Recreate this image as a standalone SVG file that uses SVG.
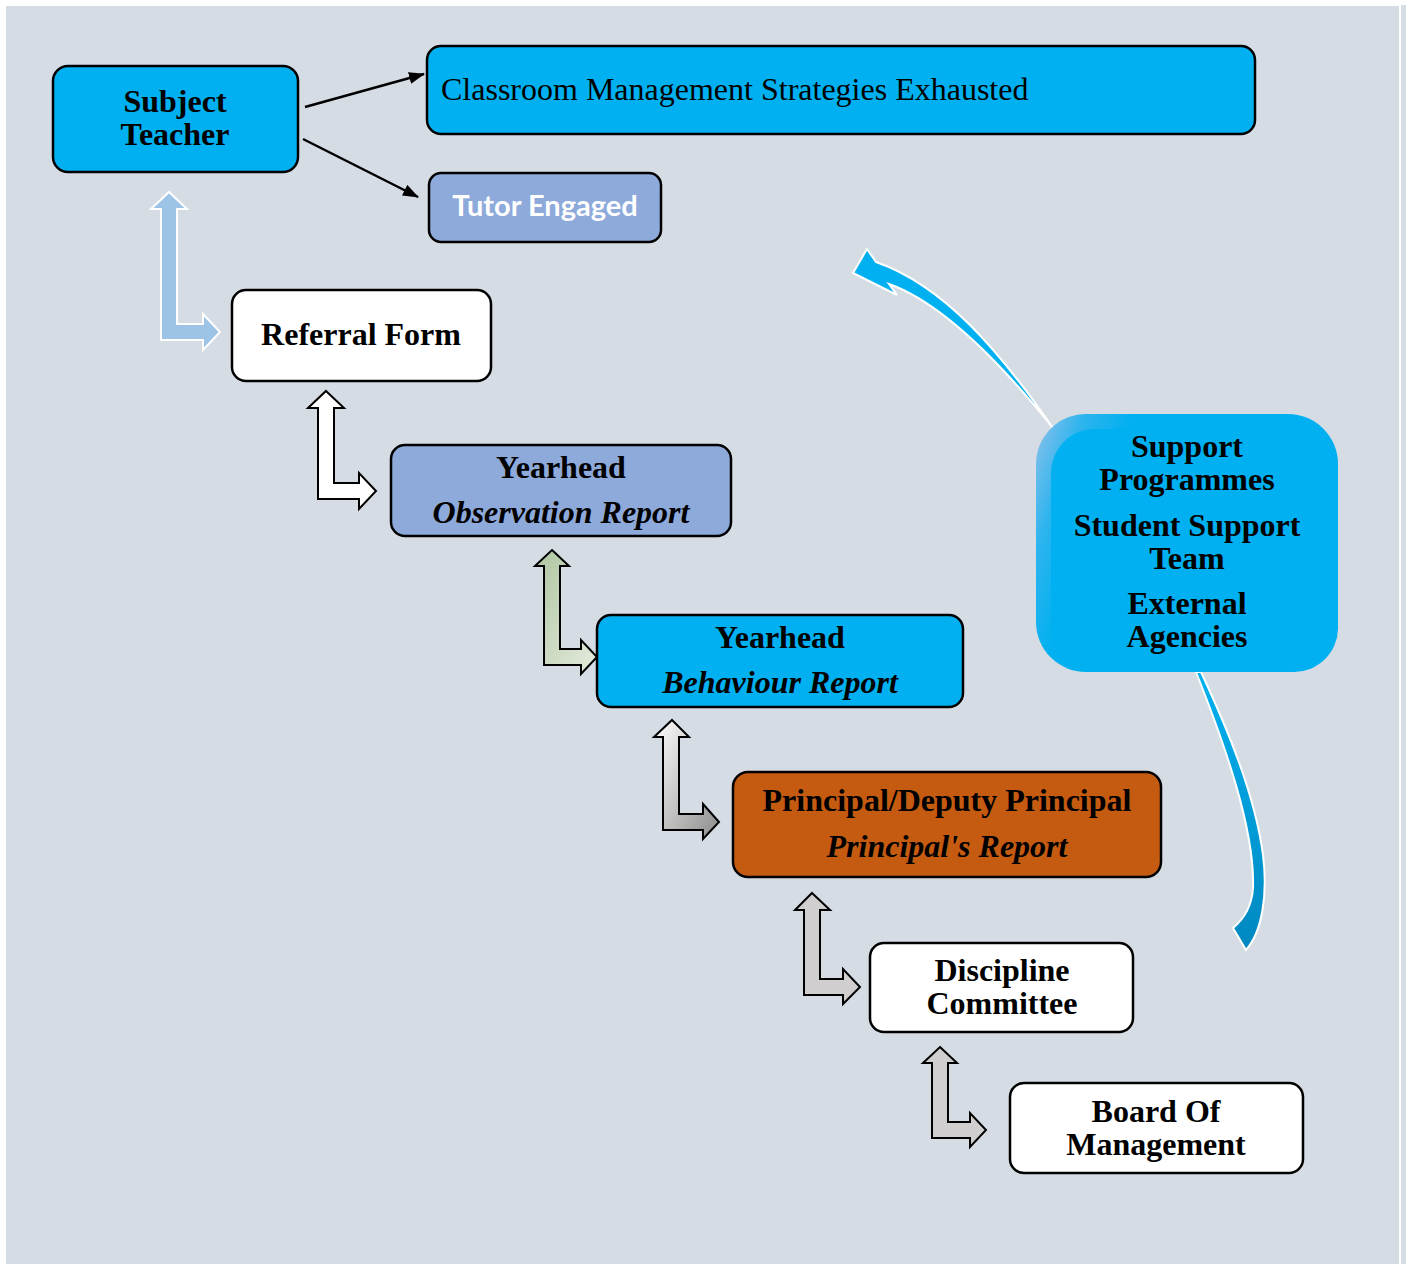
<svg xmlns="http://www.w3.org/2000/svg" width="1409" height="1264" viewBox="0 0 1409 1264">
<style>
.box{stroke:#000;stroke-width:2.5}
.t{font-family:"Liberation Serif","Times New Roman",serif;font-size:32px;font-weight:bold;fill:#000;text-anchor:middle}
.i{font-style:italic}
.bent{stroke:#000;stroke-width:2;stroke-linejoin:miter}
.ln{stroke:#000;stroke-width:2.5;fill:none}
</style>
<defs>
<marker id="ah" viewBox="0 0 16 12" refX="15" refY="6" markerWidth="16" markerHeight="12" markerUnits="userSpaceOnUse" orient="auto">
<path d="M0,0 L16,6 L0,12 Z" fill="#000"/>
</marker>
<linearGradient id="gGreen" x1="0" y1="0" x2="1" y2="1">
<stop offset="0" stop-color="#aec59f"/>
<stop offset="1" stop-color="#e6ecdf"/>
</linearGradient>
<linearGradient id="gGray" x1="0" y1="0" x2="1" y2="1">
<stop offset="0" stop-color="#ffffff"/>
<stop offset="1" stop-color="#8c8c8c"/>
</linearGradient>
<linearGradient id="gSup" x1="0" y1="0" x2="1" y2="0.3">
<stop offset="0" stop-color="#93c2ea"/>
<stop offset="0.15" stop-color="#2cb4ee"/>
<stop offset="0.3" stop-color="#00b0f0"/>
</linearGradient>
<linearGradient id="gDown" x1="0" y1="0" x2="0" y2="1">
<stop offset="0" stop-color="#00b0f0"/>
<stop offset="0.6" stop-color="#0099d4"/>
<stop offset="1" stop-color="#0088c0"/>
</linearGradient>
</defs>

<rect x="0" y="0" width="1409" height="1264" fill="#ffffff"/>
<rect x="6" y="6" width="1393" height="1258" fill="#d5dce4"/>
<rect x="1401" y="5" width="5" height="1259" fill="#d5dce4"/>

<g id="connectors">
<line class="ln" x1="305" y1="107" x2="424" y2="74" marker-end="url(#ah)"/>
<line class="ln" x1="303" y1="139" x2="418" y2="197" marker-end="url(#ah)"/>
<path d="M169,192 L187,209 L177,209 L177,324 L203,324 L203,314 L220,332 L203,350 L203,340 L161,340 L161,209 L151,209 Z" fill="#9dc3e6" stroke="#ffffff" stroke-width="2"/>
<path d="M326,391 L344,408 L334,408 L334,483 L359,483 L359,473 L376,491 L359,509 L359,499 L318,499 L318,408 L308,408 Z" class="bent" fill="#ffffff"/>
<path d="M552,550 L569,566 L560,566 L560,649 L581,649 L581,640 L597,657 L581,674 L581,665 L544,665 L544,566 L535,566 Z" class="bent" fill="url(#gGreen)"/>
<path d="M672,720 L689,737 L679,737 L679,814 L703,814 L703,804 L719,822 L703,839 L703,830 L663,830 L663,737 L654,737 Z" class="bent" fill="url(#gGray)"/>
<path d="M812,893 L830,910 L820,910 L820,979 L843,979 L843,969 L860,987 L843,1004 L843,995 L804,995 L804,910 L795,910 Z" class="bent" fill="#d0cece"/>
<path d="M940,1047 L957,1063 L948,1063 L948,1122 L970,1122 L970,1113 L986,1130 L970,1147 L970,1138 L932,1138 L932,1063 L923,1063 Z" class="bent" fill="#d0cece"/>
<path d="M867,249 L853,273 L897,295 L889,284 C940,302 1000,362 1053,428 C1000,352 945,286 876,262 Z" fill="#00b0f0" stroke="#ffffff" stroke-width="2" stroke-linejoin="miter"/>
<path d="M1196,672 C1225,745 1255,830 1253,888 C1252,905 1245,918 1233,928 L1246,950 C1262,932 1268,895 1263,855 C1255,795 1228,730 1201,672 Z" fill="url(#gDown)" stroke="#ffffff" stroke-width="2"/>
</g>

<g id="subject-teacher">
<rect class="box" x="53" y="66" width="245" height="106" rx="15" fill="#00b0f0"/>
<text class="t" x="175" y="112">Subject</text>
<text class="t" x="175" y="145">Teacher</text>
</g>

<g id="classroom">
<rect class="box" x="427" y="46" width="828" height="88" rx="14" fill="#00b0f0"/>
<text x="441" y="100" style="font-family:'Liberation Serif','Times New Roman',serif;font-size:32px;fill:#000">Classroom Management Strategies Exhausted</text>
</g>

<g id="tutor">
<rect class="box" x="429" y="173" width="232" height="69" rx="12" fill="#8eaadb"/>
<text x="545" y="216" style="font-family:Lato,'Open Sans',sans-serif;font-size:29px;font-weight:bold;fill:#fff;text-anchor:middle">Tutor Engaged</text>
</g>

<g id="referral">
<rect class="box" x="232" y="290" width="259" height="91" rx="14" fill="#ffffff"/>
<text class="t" x="361" y="345">Referral Form</text>
</g>

<g id="yearhead-observation">
<rect class="box" x="391" y="445" width="340" height="91" rx="14" fill="#8eaadb"/>
<text class="t" x="561" y="478">Yearhead</text>
<text class="t i" x="561" y="523">Observation Report</text>
</g>

<g id="yearhead-behaviour">
<rect class="box" x="597" y="615" width="366" height="92" rx="14" fill="#00b0f0"/>
<text class="t" x="780" y="648">Yearhead</text>
<text class="t i" x="780" y="693">Behaviour Report</text>
</g>

<g id="principal">
<rect class="box" x="733" y="772" width="428" height="105" rx="15" fill="#c55a11"/>
<text class="t" x="947" y="811">Principal/Deputy Principal</text>
<text class="t i" x="947" y="857">Principal's Report</text>
</g>

<g id="discipline">
<rect class="box" x="870" y="943" width="263" height="89" rx="14" fill="#ffffff"/>
<text class="t" x="1002" y="981">Discipline</text>
<text class="t" x="1002" y="1014">Committee</text>
</g>

<g id="board">
<rect class="box" x="1010" y="1083" width="293" height="90" rx="14" fill="#ffffff"/>
<text class="t" x="1156" y="1122">Board Of</text>
<text class="t" x="1156" y="1155">Management</text>
</g>

<g id="support">
<rect x="1036" y="414" width="302" height="258" rx="50" fill="url(#gSup)"/>
<rect x="1051" y="429" width="287" height="243" rx="44" fill="#00b0f0"/>
<text class="t" x="1187" y="457">Support</text>
<text class="t" x="1187" y="490">Programmes</text>
<text class="t" x="1187" y="536">Student Support</text>
<text class="t" x="1187" y="569">Team</text>
<text class="t" x="1187" y="614">External</text>
<text class="t" x="1187" y="647">Agencies</text>
</g>
</svg>
